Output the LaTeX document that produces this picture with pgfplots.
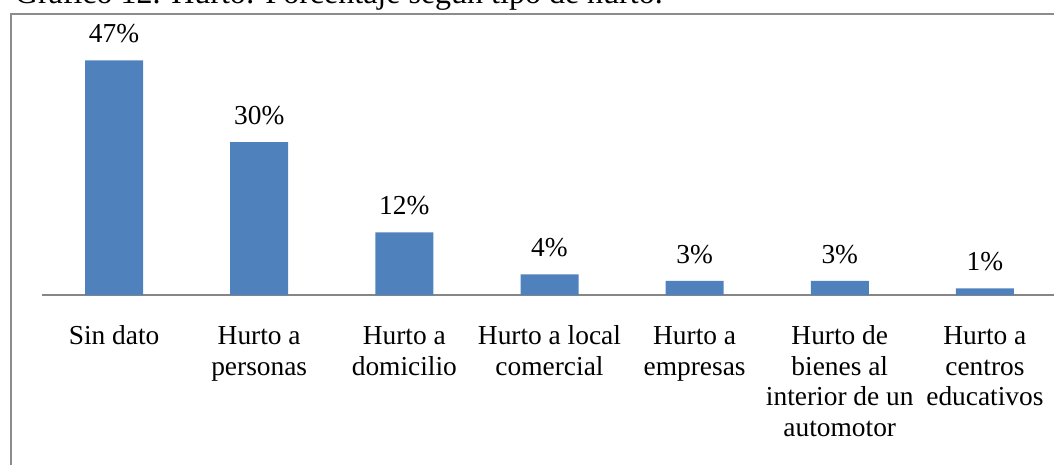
\documentclass[border=0pt]{standalone}
\usepackage{fontspec}
\setmainfont{Liberation Serif}
\usepackage{pgfplots}
\pgfplotsset{compat=1.18}
\definecolor{barblue}{HTML}{4F81BD}
\definecolor{axisgray}{HTML}{868686}
\definecolor{framegray}{HTML}{8C8C8C}
\newcommand{\tl}[1]{\begin{tabular}[t]{@{}c@{}}#1\end{tabular}}
\begin{document}
\begin{tikzpicture}
\useasboundingbox (-20.75pt,-85pt) rectangle (506.25pt,147.5pt);
\clip (-20.75pt,-85pt) rectangle (506.25pt,147.5pt);
\draw[framegray, line width=0.75pt] (-15.25pt,-120pt) -- (-15.25pt,140.5pt) -- (560pt,140.5pt);
\node[anchor=base west, inner sep=0pt, font=\fontsize{16}{18}\selectfont] at (-13.5pt,145.5pt) {Gráfico 12. Hurto: Porcentaje según tipo de hurto.};
\begin{axis}[
  at={(0pt,0pt)}, anchor=south west,
  scale only axis,
  width=508pt, height=125.375pt,
  xmin=-0.5, xmax=6.5, ymin=0, ymax=50,
  axis y line=none,
  axis x line*=bottom,
  x axis line style={axisgray, line width=1pt},
  xtick={0,1,2,3,4,5,6},
  xtick style={draw=none},
  xticklabels={{\tl{Sin dato}},{\tl{Hurto a\\personas}},{\tl{Hurto a\\domicilio}},{\tl{Hurto a local\\comercial}},{\tl{Hurto a\\empresas}},{\tl{Hurto de\\bienes al\\interior de un\\automotor}},{\tl{Hurto a\\centros\\educativos}}},
  xticklabel style={anchor=base, inner sep=0pt, yshift=-20.5pt, font=\fontsize{13.7}{15.35}\selectfont},
  clip=false,
  ybar, bar width=29pt,
  point meta=explicit symbolic,
  nodes near coords={\pgfplotspointmeta\%},
  every node near coord/.append style={anchor=base, inner sep=0pt, yshift=8.75pt, font=\fontsize{13.7}{15.35}\selectfont, text=black},
]
\addplot[fill=barblue, draw=none] table[meta=label] {
x y label
0 46.8 47
1 30.5 30
2 12.5 12
3 4.1 4
4 2.8 3
5 2.8 3
6 1.3 1
};
\end{axis}
\end{tikzpicture}
\end{document}
